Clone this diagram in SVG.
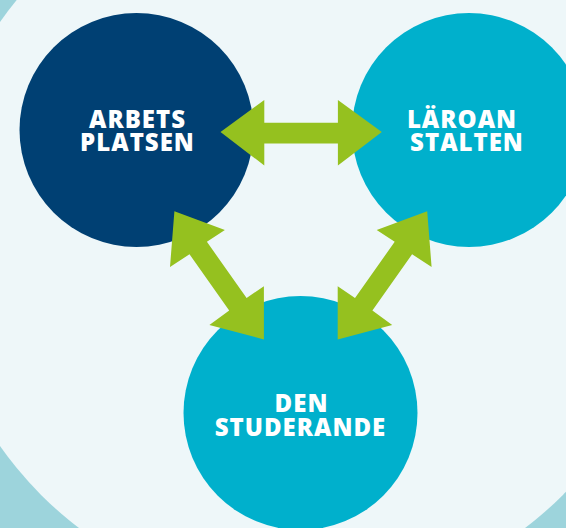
<svg xmlns="http://www.w3.org/2000/svg" width="566" height="528" viewBox="0 0 566 528">
<style>
.lbl{font-family:"Open Sans","Noto Sans","DejaVu Sans",sans-serif;font-weight:800;font-size:24px;fill:#ffffff;text-anchor:middle;letter-spacing:1px}
.arrow{fill:#95c11f}
</style>
<rect x="0" y="0" width="566" height="528" fill="#9dd4dc"/>
<circle cx="302" cy="234" r="369" fill="#eef7f9"/>
<g id="node-arbetsplatsen">
<circle cx="136.5" cy="130" r="117" fill="#004073"/>
<text class="lbl" x="137.5" y="128">ARBETS</text>
<text class="lbl" x="137.5" y="151">PLATSEN</text>
</g>
<g id="node-laroanstalten">
<circle cx="469" cy="130" r="117" fill="#00b0cc"/>
<text class="lbl" x="462" y="128">LÄROAN</text>
<text class="lbl" x="467" y="151">STALTEN</text>
</g>
<g id="node-den-studerande">
<circle cx="300.5" cy="413" r="117" fill="#00b0cc"/>
<text class="lbl" x="301.5" y="412">DEN</text>
<text class="lbl" x="300.5" y="436">STUDERANDE</text>
</g>
<g id="connectors">
<polygon class="arrow" points="220.5,132 264.3,100 264.3,122.7 337.9,122.7 337.9,100 381.8,132 337.9,165.5 337.9,143.5 264.3,143.5 264.3,165.5"/>
<polygon class="arrow" points="174.4,211.3 224.9,230 206.9,241.8 246.6,298 263.9,286.2 263.9,339.4 209.4,324.9 229.2,310.4 189.5,254.2 170,267"/>
<polygon class="arrow" points="427.2,211.3 431.6,267 412.1,254.2 372.4,310.4 392.2,324.9 337.7,339.4 337.7,286.2 355,298 394.7,241.8 376.7,230"/>
</g>
</svg>
